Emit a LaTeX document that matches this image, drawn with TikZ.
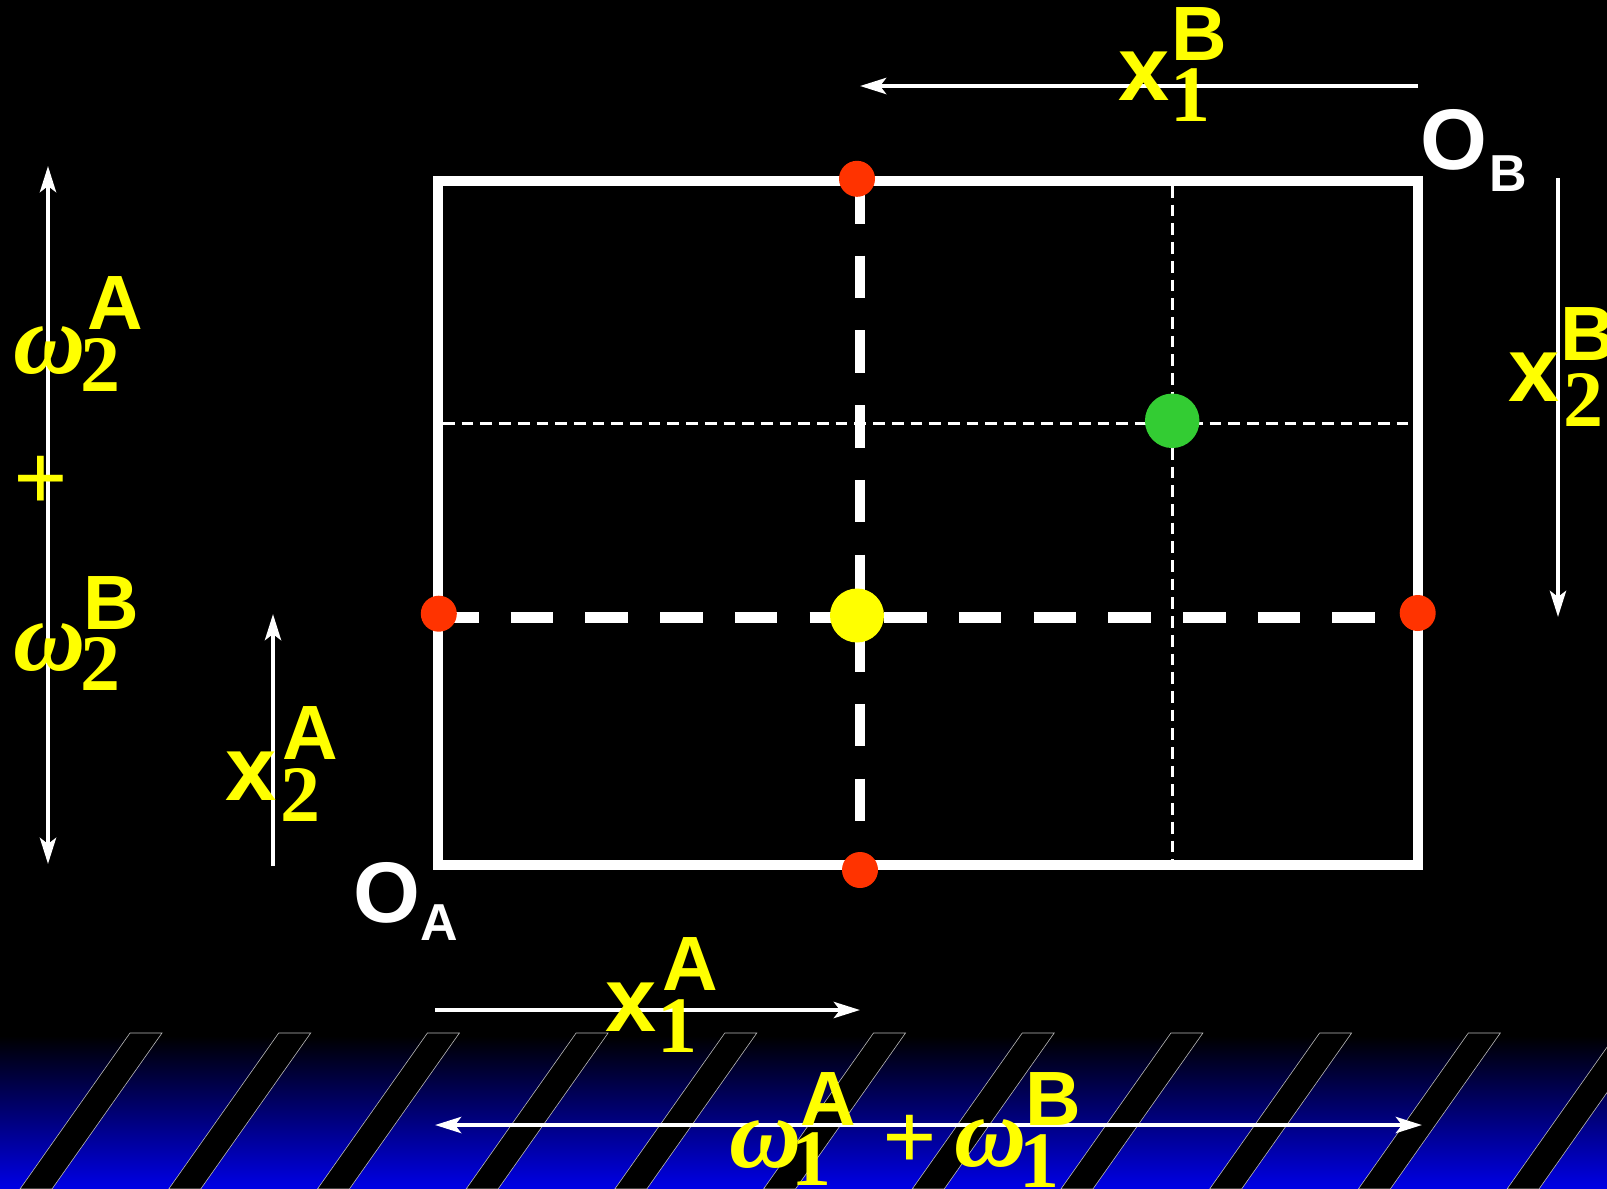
\documentclass[tikz,border=0pt]{standalone}
\usepackage{fontspec}
\usetikzlibrary{arrows.meta}
\newfontfamily\lsans{Liberation Sans}
\newfontfamily\lserif{Liberation Serif}
\definecolor{ylw}{RGB}{255,255,0}
\definecolor{dotred}{RGB}{255,51,0}
\definecolor{dotgreen}{RGB}{51,204,51}
\definecolor{bandblue}{RGB}{0,0,230}
\tikzset{
  lab/.style={text=ylw, inner sep=0pt, anchor=center},
  sx/.style={lab, font=\lsans\bfseries\fontsize{92}{92}\selectfont},
  ss/.style={lab, font=\lsans\bfseries\fontsize{77}{77}\selectfont},
  dg/.style={lab, font=\lserif\bfseries\fontsize{80}{80}\selectfont},
  pl/.style={lab, font=\lserif\bfseries\fontsize{96}{96}\selectfont},
  om/.style={lab, font=\lserif\bfseries\itshape\fontsize{100}{100}\selectfont},
  obig/.style={text=white, inner sep=0pt, anchor=center, font=\lsans\bfseries\fontsize{86}{86}\selectfont},
  osub/.style={text=white, inner sep=0pt, anchor=center, font=\lsans\bfseries\fontsize{52}{52}\selectfont},
  tip/.tip={Stealth[length=26pt,width=16pt,inset=6pt]},
  arr/.style={draw=white, line width=4.5pt, -tip},
  darr/.style={draw=white, line width=4.5pt, tip-tip},
  thick dash/.style={draw=white, line width=10.5pt, dash pattern=on 42.5pt off 32.2pt},
  thin dash/.style={draw=white, line width=3pt, dash pattern=on 11.7pt off 7pt},
  reddot/.style={circle, fill=dotred, minimum size=36pt, inner sep=0pt},
}
\begin{document}
\begin{tikzpicture}[x=1pt,y=-1pt]
\useasboundingbox (0,0) rectangle (1607,1189);
\fill[black] (0,0) rectangle (1607,1189);
% bottom band
\shade[top color=black, bottom color=bandblue] (0,1036) rectangle (1607,1189);
\begin{scope}
\clip (0,0) rectangle (1607,1189);
\foreach \i in {0,...,10}{
  \filldraw[fill=black, draw=gray!55, line width=0.6pt] ({130+148.7*\i},1033) -- ++(32,0) -- ++(-110,156) -- ++(-32,0) -- cycle;
}
\end{scope}
% box
\coordinate (BL) at (438,865);
\coordinate (TR) at (1417.5,181);
\draw[white, line width=10pt, miter limit=10] (BL) rectangle (TR);
% thin dashed guide lines
\coordinate (th1) at (443,423.3);
\coordinate (th2) at (1412.5,423.3);
\coordinate (tv1) at (1172.5,186);
\coordinate (tv2) at (1172.5,860);
\draw[thin dash] (th1) -- (th2);
\draw[thin dash] (tv1) -- (tv2);
% thick dashed lines
\coordinate (hv1) at (860,181);
\coordinate (hv2) at (860,865);
\coordinate (hh1) at (436,617.5);
\coordinate (hh2) at (1417.5,617.5);
\draw[thick dash] (hv1) -- (hv2);
\draw[thick dash] (hh1) -- (hh2);
% dots
\node[reddot] (rtop) at (857,178.8) {};
\node[reddot] (rleft) at (438.8,613.7) {};
\node[reddot] (rright) at (1417.7,613) {};
\node[reddot] (rbot) at (860,870) {};
\node[circle, fill=ylw, minimum size=54pt, inner sep=0pt] (ydot) at (857,615.5) {};
\node[circle, fill=dotgreen, minimum size=54.5pt, inner sep=0pt] (gdot) at (1172.2,420.8) {};
% arrows
\coordinate (a1s) at (1418,86);   \coordinate (a1e) at (860,86);
\coordinate (a2s) at (1558,178);  \coordinate (a2e) at (1558,617);
\coordinate (a3s) at (48,166);    \coordinate (a3e) at (48,864);
\coordinate (a4s) at (273,866);   \coordinate (a4e) at (273,614);
\coordinate (a5s) at (435,1010);  \coordinate (a5e) at (860,1010);
\coordinate (a6s) at (435,1125);  \coordinate (a6e) at (1422,1125);
\draw[arr] (a1s) -- (a1e);
\draw[arr] (a2s) -- (a2e);
\draw[darr] (a3s) -- (a3e);
\draw[arr] (a4s) -- (a4e);
\draw[arr] (a5s) -- (a5e);
\draw[darr] (a6s) -- (a6e);
% origin labels
\node[obig] (OB) at (1454,140) {O};
\node[osub] (OBs) at (1508,173.5) {B};
\node[obig] (OA) at (387,892.5) {O};
\node[osub] (OAs) at (439,922.5) {A};
% x1B
\node[sx] (x1Bx) at (1144.5,76.5) {x};
\node[ss] (x1BB) at (1199,34) {B};
\node[dg] (x1B1) at (1190.5,95.5) {1};
% x2B
\node[sx] (x2Bx) at (1534,377.5) {x};
\node[ss] (x2BB) at (1588,334.5) {B};
\node[dg] (x2B2) at (1583.5,400) {2};
% w2A + w2B
\node[om] (w2Aw) at (49.5,351) {ω};
\node[dg] (w2A2) at (100,365.5) {2};
\node[ss] (w2AA) at (115,303.5) {A};
\node[pl] (plus1) at (40.5,483) {+};
\node[om] (w2Bw) at (49.5,648) {ω};
\node[ss] (w2BB) at (111.5,603.5) {B};
\node[dg] (w2B2) at (100,664) {2};
% x2A
\node[sx] (x2Ax) at (251.5,776.5) {x};
\node[ss] (x2AA) at (310,733) {A};
\node[dg] (x2A2) at (300.5,795.5) {2};
% x1A
\node[sx] (x1Ax) at (631.5,1007.5) {x};
\node[ss] (x1AA) at (690,963.5) {A};
\node[dg] (x1A1) at (677,1026) {1};
% w1A + w1B
\node[om] (w1Aw) at (765.5,1145) {ω};
\node[ss] (w1AA) at (828,1099) {A};
\node[dg] (w1A1) at (811,1159.5) {1};
\node[pl] (plus2) at (910,1142) {+};
\node[om] (w1Bw) at (990.5,1143.5) {ω};
\node[ss] (w1BB) at (1053.5,1099) {B};
\node[dg] (w1B1) at (1039.5,1161) {1};
\end{tikzpicture}
\end{document}
